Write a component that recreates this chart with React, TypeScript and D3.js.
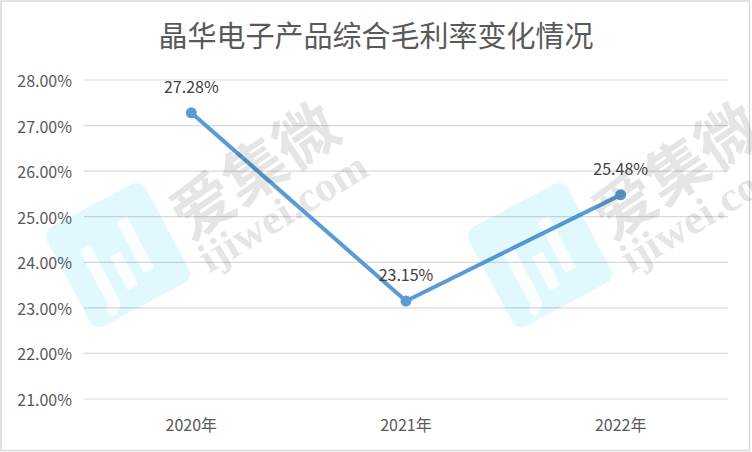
import React from "react";
import * as d3 from "d3";

const title = "晶华电子产品综合毛利率变化情况";
const categories = ["2020年", "2021年", "2022年"];
const margins = [27.28, 23.15, 25.48];
const yTicks = [21, 22, 23, 24, 25, 26, 27, 28];
const watermarkOffsets = [0, 422];

const W = 752;
const H = 452;

export default function App() {
  const x = d3.scaleBand<string>().domain(categories).range([84, 728]);
  const y = d3.scaleLinear().domain([21, 28]).range([399, 80]);
  const cx = (c: string) => (x(c) as number) + x.bandwidth() / 2;
  const line = d3
    .line<number>()
    .x((_, i) => cx(categories[i]))
    .y((d) => y(d));
  const font = "'Noto Sans CJK SC', 'Noto Sans', sans-serif";

  return (
    <svg
      width={W}
      height={H}
      style={{ position: "fixed", left: 0, top: 0, background: "#fff" }}
      fontFamily={font}
    >
      <rect x={0} y={0} width={W} height={H} fill="#fff" />
      <rect x={1} y={1} width={W - 3.5} height={H - 2.5} fill="none" stroke="#d9d9d9" strokeWidth={1.5} />
      <text x={376} y={34} textAnchor="middle" dominantBaseline="central" fontSize={29} fill="#595959">
        {title}
      </text>
      {yTicks.map((t) => (
        <g key={t}>
          <line x1={84} x2={728} y1={y(t)} y2={y(t)} stroke="#d9d9d9" strokeWidth={1.2} />
          <text x={72} y={y(t)} textAnchor="end" dominantBaseline="central" fontSize={16} fill="#595959">
            {t.toFixed(2)}%
          </text>
        </g>
      ))}
      {categories.map((c) => (
        <text key={c} x={cx(c)} y={424} textAnchor="middle" dominantBaseline="central" fontSize={16} fill="#595959">
          {c}
        </text>
      ))}
      <path d={line(margins) as string} fill="none" stroke="#5b9bd5" strokeWidth={4} strokeLinejoin="round" />
      {margins.map((v, i) => (
        <g key={i}>
          <circle cx={cx(categories[i])} cy={y(v)} r={5.5} fill="#5b9bd5" />
          <text
            x={cx(categories[i])}
            y={y(v) - 27}
            textAnchor="middle"
            dominantBaseline="central"
            fontSize={16}
            fill="#404040"
          >
            {v.toFixed(2)}%
          </text>
        </g>
      ))}
      <g style={{ mixBlendMode: "multiply" }}>
        {watermarkOffsets.map((dx) => (
          <g key={dx} transform={`translate(${dx},0)`}>
            <g transform="translate(118,255) rotate(-28)">
              <rect x={-56} y={-56} width={112} height={112} rx={10} fill="#c4f2fd" opacity={0.5} />
              <path d="M-32,-22 L-20,-22 L-20,38 Q-20,50 -34,52 L-36,44 Q-32,42 -32,36 Z" fill="#fff" opacity={0.85} />
              <rect x={-8} y={-2} width={12} height={38} fill="#fff" opacity={0.85} />
              <rect x={14} y={-30} width={12} height={58} fill="#fff" opacity={0.85} />
            </g>
            <text
              transform="translate(252,167) rotate(-34)"
              textAnchor="middle"
              dominantBaseline="central"
              fontSize={62}
              fontWeight="bold"
              fontFamily="'Noto Sans CJK SC', serif"
              fill="#bfbfbf"
              opacity={0.4}
            >
              爱集微
            </text>
            <text
              transform="translate(283,212) rotate(-31.5)"
              textAnchor="middle"
              dominantBaseline="central"
              fontSize={42}
              fontWeight="bold"
              fontFamily="'Liberation Serif', serif"
              fill="#bfbfbf"
              opacity={0.4}
              textLength={190}
              lengthAdjust="spacingAndGlyphs"
            >
              ijiwei.com
            </text>
          </g>
        ))}
      </g>
    </svg>
  );
}
